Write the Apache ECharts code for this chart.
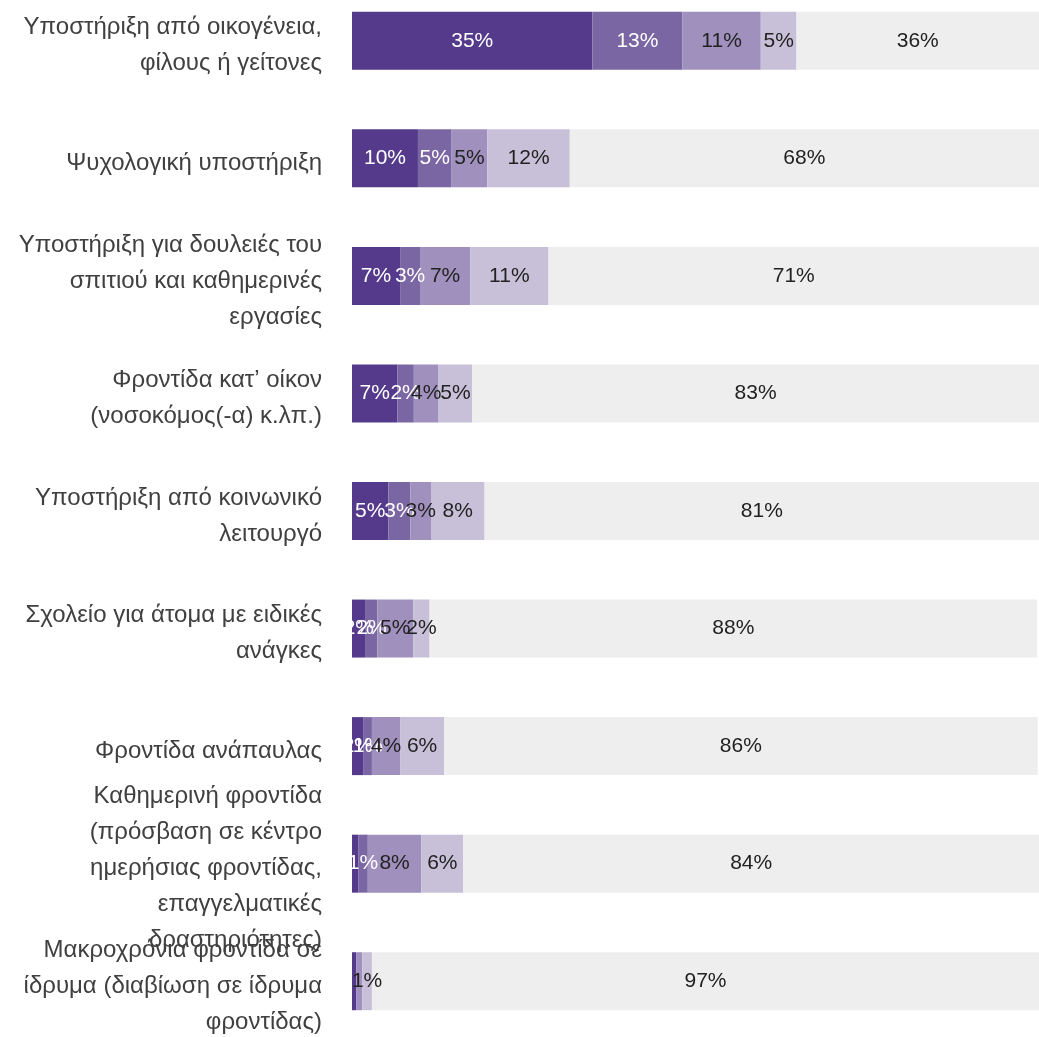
<!DOCTYPE html>
<html>
<head>
<meta charset="utf-8">
<script src="https://cdn.jsdelivr.net/npm/echarts@6/dist/echarts.min.js"></script>
<style>
  html, body { margin: 0; padding: 0; background: #fff; overflow: hidden; }
  #wrap { width: 1039px; height: 1037px; overflow: hidden; position: relative; }
  /* the plot area starts a little above the page edge */
  #chart { width: 1039px; height: 1063px; position: absolute; left: 0; top: -18px; }
</style>
</head>
<body>
<div id="wrap"><div id="chart"></div></div>
<script>
// κατηγορίες (άξονας y)
const categories = [
  'Υποστήριξη από οικογένεια,\nφίλους ή γείτονες',
  'Ψυχολογική υποστήριξη',
  'Υποστήριξη για δουλειές του\nσπιτιού και καθημερινές\nεργασίες',
  'Φροντίδα κατ’ οίκον\n(νοσοκόμος(-α) κ.λπ.)',
  'Υποστήριξη από κοινωνικό\nλειτουργό',
  'Σχολείο για άτομα με ειδικές\nανάγκες',
  'Φροντίδα ανάπαυλας',
  'Καθημερινή φροντίδα\n(πρόσβαση σε κέντρο\nημερήσιας φροντίδας,\nεπαγγελματικές\nδραστηριότητες)',
  'Μακροχρόνια φροντίδα σε\nίδρυμα (διαβίωση σε ίδρυμα\nφροντίδας)'
]

// τιμές (%) ανά σειρά
const level1 = [35.0, 9.6, 7.0, 6.6, 5.3, 2.0, 1.7, 0.9, 0.6]
const level2 = [13.1, 4.9, 2.9, 2.4, 3.2, 1.7, 1.2, 1.4, 0]
const level3 = [11.4, 5.2, 7.3, 3.6, 3.0, 5.2, 4.1, 7.8, 0.9]
const level4 = [5.2, 12.0, 11.4, 4.9, 7.8, 2.4, 6.4, 6.1, 1.4]
const level5 = [36, 68.3, 71.4, 83, 81, 88.4, 86.4, 84, 97.1]

const colors = ['#553a8b', '#7a66a3', '#a090bd', '#c8c0d8', '#eeeeee']
const labelColors = ['#ffffff', '#ffffff', '#222222', '#222222', '#222222']

const mycharts = echarts.init(document.querySelector('#chart'))

function makeSeries(name, data, i) {
  return {
    name: name,
    type: 'bar',
    stack: 'total',
    barWidth: 58,
    data: data,
    itemStyle: { color: colors[i] },
    label: {
      show: true,
      position: 'inside',
      color: labelColors[i],
      fontSize: 21,
      fontFamily: 'Liberation Sans, Arial, sans-serif',
      formatter: function (p) {
        return p.value < 1 ? '' : Math.round(p.value) + '%'
      }
    }
  }
}

const option = {
  animation: false,
  backgroundColor: '#ffffff',
  // grid 0: bars, grid 1: the category labels (a few px lower)
  grid: [
    { left: 352, right: 0, top: 0, bottom: 5 },
    { left: 352, right: 0, top: 5, bottom: 0 }
  ],
  xAxis: [
    { type: 'value', min: 0, max: 100, show: false, gridIndex: 0 },
    { type: 'value', min: 0, max: 100, show: false, gridIndex: 1 }
  ],
  yAxis: [
    {
      type: 'category',
      gridIndex: 0,
      inverse: true,
      data: categories,
      axisLine: { show: false },
      axisTick: { show: false },
      axisLabel: { show: false }
    },
    {
      type: 'category',
      gridIndex: 1,
      inverse: true,
      data: categories,
      axisLine: { show: false },
      axisTick: { show: false },
      axisLabel: {
        interval: 0,
        margin: 30,
        fontSize: 24,
        lineHeight: 36,
        color: '#404040',
        align: 'right',
        fontFamily: 'Liberation Sans, Arial, sans-serif'
      }
    }
  ],
  series: [
    makeSeries('s1', level1, 0),
    makeSeries('s2', level2, 1),
    makeSeries('s3', level3, 2),
    makeSeries('s4', level4, 3),
    makeSeries('s5', level5, 4)
  ]
}
mycharts.setOption(option)
</script>
</body>
</html>
